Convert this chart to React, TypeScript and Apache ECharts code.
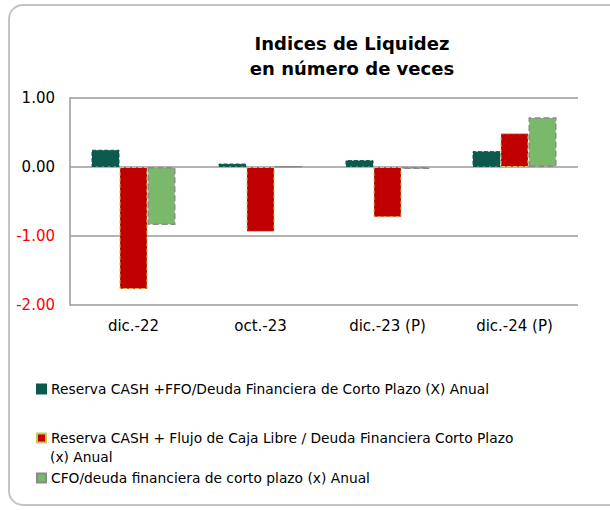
import React, { useEffect, useRef } from "react";
import * as echarts from "echarts";

const categories = ["dic.-22", "oct.-23", "dic.-23 (P)", "dic.-24 (P)"];
const seriesNames = [
  "Reserva CASH +FFO/Deuda Financiera de Corto Plazo (X) Anual",
  "Reserva CASH + Flujo de Caja Libre / Deuda Financiera Corto Plazo (x) Anual",
  "CFO/deuda financiera de corto plazo (x) Anual",
];
const reservaFFO = [0.25, 0.05, 0.1, 0.23];
const reservaFCL = [-1.77, -0.94, -0.73, 0.49];
const cfoDeuda = [-0.84, 0.01, -0.03, 0.72];
const titleLines = ["Indices de Liquidez", "en número de veces"];

const FONT = "DejaVu Sans";

export default function App() {
  const ref = useRef<HTMLDivElement>(null);
  useEffect(() => {
    document.body.style.margin = "0";
    const chart = echarts.init(ref.current!, null, { renderer: "svg" });
    const legendBase = {
      orient: "horizontal",
      left: 36,
      padding: 0,
      itemWidth: 9,
      itemHeight: 9,
      icon: "rect",
      textStyle: { fontFamily: FONT, fontSize: 13.8, color: "#000", lineHeight: 18 },
    };
    chart.setOption({
      animation: false,
      backgroundColor: "#fff",
      title: {
        text: titleLines.join("\n"),
        left: 347,
        textAlign: "center",
        top: 26,
        textStyle: {
          fontFamily: FONT,
          fontSize: 18,
          fontWeight: "bold",
          color: "#000",
          lineHeight: 25,
        },
      },
      graphic: [
        {
          type: "rect",
          shape: { x: 9, y: 5, width: 640, height: 500, r: 14 },
          style: { fill: "none", stroke: "#c4c4c4", lineWidth: 2 },
          z: -1,
        },
        {
          type: "text",
          x: 50,
          y: 457,
          style: {
            text: "(x) Anual",
            fontFamily: FONT,
            fontSize: 13.8,
            fill: "#000",
            verticalAlign: "middle",
          },
        },
      ],
      legend: [
        { ...legendBase, top: 380, data: [seriesNames[0]] },
        {
          ...legendBase,
          top: 429,
          data: [seriesNames[1]],
          formatter: () => "Reserva CASH + Flujo de Caja Libre / Deuda Financiera Corto Plazo",
        },
        { ...legendBase, top: 469, data: [seriesNames[2]] },
      ],
      grid: { left: 70, right: 32, top: 98, bottom: 205 },
      xAxis: {
        type: "category",
        data: categories,
        axisLine: { show: false },
        axisTick: { show: false },
        axisLabel: {
          fontFamily: FONT,
          fontSize: 15,
          color: "#000",
          margin: 13,
        },
      },
      yAxis: {
        type: "value",
        min: -2,
        max: 1,
        interval: 1,
        axisLine: { show: true, lineStyle: { color: "#9a9a9a", width: 1.5 } },
        axisTick: { show: false },
        splitLine: { lineStyle: { color: "#9a9a9a", width: 1.5 } },
        axisLabel: {
          fontFamily: FONT,
          fontSize: 15,
          margin: 15,
          formatter: (v: number) => v.toFixed(2),
          color: (v: any) => (Number(v) < 0 ? "#ff0000" : "#000"),
        },
      },
      series: [
        {
          name: seriesNames[0],
          type: "bar",
          data: reservaFFO,
          barWidth: 28,
          barGap: "0%",
          itemStyle: {
            color: "#0b5a4c",
            borderColor: "#0b5a4c",
            borderWidth: 1,
            borderType: "dashed",
          },
        },
        {
          name: seriesNames[1],
          type: "bar",
          data: reservaFCL,
          barWidth: 28,
          barGap: "0%",
          itemStyle: {
            color: "#c00000",
            borderColor: "#c8c860",
            borderWidth: 1,
            borderType: "dashed",
          },
        },
        {
          name: seriesNames[2],
          type: "bar",
          data: cfoDeuda,
          barWidth: 28,
          barGap: "0%",
          itemStyle: {
            color: "#7ab96c",
            borderColor: "#8a8a8a",
            borderWidth: 1.5,
            borderType: "dashed",
          },
        },
      ],
    });
    return () => chart.dispose();
  }, []);
  return <div ref={ref} style={{ width: 610, height: 510 }} />;
}
